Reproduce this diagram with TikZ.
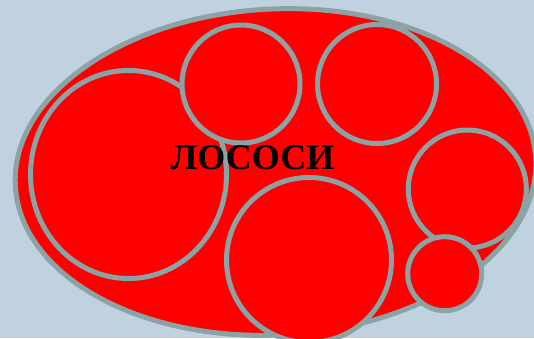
\documentclass[tikz,border=0pt]{standalone}
\usepackage{fontspec}
\setmainfont{Liberation Serif}
\usepackage{xcolor}
\usepackage{tikz}
\usetikzlibrary{shapes.geometric}

\definecolor{bgblue}{RGB}{192,210,224}
\definecolor{rimgray}{RGB}{138,164,165}

\begin{document}
\begin{tikzpicture}[
        x=1pt, y=-1pt,
        bubble/.style={draw=rimgray, circle, fill=red, line width=5pt, inner sep=0pt},
        group/.style={draw=rimgray, ellipse, fill=red, line width=5pt, inner sep=0pt},
        title/.style={font=\bfseries\fontsize{36}{36}\selectfont, text=black}
    ]
        \fill[bgblue] (0,0) rectangle (534,338);
        \useasboundingbox (0,0) rectangle (534,338);

        \node (salmon) [group, minimum width=521pt, minimum height=326pt, rotate=3] at (275.5,172) {};
        \node (b1) [group, minimum width=196pt, minimum height=208pt] at (128.5,174.5) {};
        \node (b2) [bubble, minimum size=118pt] at (241,84) {};
        \node (b3) [bubble, minimum size=119pt] at (377,84) {};
        \node (b4) [bubble, minimum size=118pt] at (467.3,189) {};
        \node (b5) [bubble, minimum size=165pt] at (309,260) {};
        \node (b6) [bubble, minimum size=74pt] at (444.7,273.7) {};

        \node (name) [title, anchor=base] at (252.5,169.5) {ЛОСОСИ};
\end{tikzpicture}
\end{document}
